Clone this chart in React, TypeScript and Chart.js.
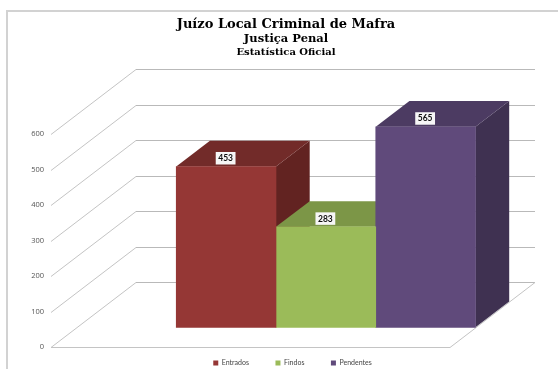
import React, { useEffect, useRef } from "react";
import { Chart, registerables } from "chart.js";

Chart.register(...registerables);

const titleText = "Juízo Local Criminal de Mafra";
const subtitleLine = "Justiça Penal";
const thirdLine = "Estatística Oficial";
const categories = ["Total"];
const seriesNames = ["Entrados", "Findos", "Pendentes"];
const seriesValues = [453, 283, 565];
const frontColors = ["#953735", "#9BBB59", "#604A7B"];
const topColors = ["#722B29", "#7C9647", "#4C3B62"];
const sideColors = ["#622321", "#677C3B", "#3F3151"];
const yTicks = { min: 0, max: 600, step: 100 };

const WALL_DX = 85;
const WALL_DY = -65;
const BAR_OFFSET_X = 25.5;
const BAR_OFFSET_Y = -19.7;
const BAR_DEPTH_X = 33.7;
const BAR_DEPTH_Y = -25.7;

const poly = (ctx: CanvasRenderingContext2D, pts: number[][], fill: string) => {
  ctx.beginPath();
  pts.forEach((p, i) => (i ? ctx.lineTo(p[0], p[1]) : ctx.moveTo(p[0], p[1])));
  ctx.closePath();
  ctx.fillStyle = fill;
  ctx.fill();
};

const barDatasets = (chart: any) =>
  chart.getSortedVisibleDatasetMetas().filter((m: any) => m.index > 0);

const depthPlugin = {
  id: "depth",
  beforeInit(chart: any) {
    const legend = chart.legend;
    const fit = legend.fit;
    legend.fit = function () {
      fit.call(legend);
      legend.height = 22;
    };
  },
  afterLayout(chart: any) {
    const legend = chart.legend;
    legend.left += 6.5;
    legend.right += 6.5;
    legend.top = 333;
    legend.bottom = 369;
  },
  beforeDraw(chart: any) {
    const ctx = chart.ctx;
    ctx.save();
    ctx.fillStyle = "#fff";
    ctx.fillRect(0, 0, chart.width, chart.height);
    ctx.strokeStyle = "#d2d2d2";
    ctx.lineWidth = 2;
    ctx.strokeRect(7, 11, 700, 500);
    const { left, right } = chart.chartArea;
    const y = chart.scales.y;
    ctx.lineWidth = 1;
    y.ticks.forEach((t: any) => {
      const py = Math.round(y.getPixelForValue(t.value)) + 0.5;
      ctx.strokeStyle = "#c4c4c4";
      ctx.beginPath();
      ctx.moveTo(left, py);
      ctx.lineTo(left + WALL_DX, py + WALL_DY);
      ctx.stroke();
      ctx.strokeStyle = "#b9b9b9";
      ctx.beginPath();
      ctx.moveTo(left + WALL_DX, py + WALL_DY);
      ctx.lineTo(right + WALL_DX, py + WALL_DY);
      ctx.stroke();
    });
    const y0 = Math.round(y.getPixelForValue(0)) + 0.5;
    ctx.strokeStyle = "#c4c4c4";
    ctx.beginPath();
    ctx.moveTo(left, y0);
    ctx.lineTo(right, y0);
    ctx.lineTo(right + WALL_DX, y0 + WALL_DY);
    ctx.stroke();
    ctx.restore();
  },
  beforeDatasetsDraw(chart: any) {
    const ctx = chart.ctx;
    ctx.save();
    ctx.translate(BAR_OFFSET_X, BAR_OFFSET_Y);
    barDatasets(chart).forEach((meta: any) => {
      const i = meta.index - 1;
      const b = meta.data[0].getProps(["x", "y", "base", "width"], true);
      const l = b.x - b.width / 2;
      const r = b.x + b.width / 2;
      poly(ctx, [[r, b.y], [r + BAR_DEPTH_X, b.y + BAR_DEPTH_Y], [r + BAR_DEPTH_X, b.base + BAR_DEPTH_Y], [r, b.base]], sideColors[i]);
      poly(ctx, [[l, b.y], [l + BAR_DEPTH_X, b.y + BAR_DEPTH_Y], [r + BAR_DEPTH_X, b.y + BAR_DEPTH_Y], [r, b.y]], topColors[i]);
    });
  },
  afterDatasetsDraw(chart: any) {
    const ctx = chart.ctx;
    barDatasets(chart).forEach((meta: any) => {
      const i = meta.index - 1;
      const b = meta.data[0].getProps(["x", "y"], true);
      const text = String(seriesValues[i]);
      const cy = b.y - 8.5;
      ctx.font = "bold 8.5px Lato";
      const w = ctx.measureText(text).width + 5;
      ctx.fillStyle = "#f6f6f6";
      ctx.fillRect(b.x - w / 2 - 0.5, cy - 6, w, 12.5);
      ctx.fillStyle = "#111";
      ctx.textAlign = "center";
      ctx.textBaseline = "middle";
      ctx.fillText(text, b.x - 0.5, cy + 0.5);
    });
    ctx.restore();
  },
  afterDraw(chart: any) {
    const ctx = chart.ctx;
    ctx.save();
    ctx.font = "bold 10px 'DejaVu Serif'";
    ctx.fillStyle = "#000";
    ctx.textAlign = "center";
    ctx.textBaseline = "middle";
    ctx.fillText(thirdLine, chart.width / 2, 52.5);
    ctx.restore();
  },
};

export default function App() {
  const ref = useRef<HTMLCanvasElement | null>(null);
  useEffect(() => {
    const chart = new Chart(ref.current!, {
      type: "bar",
      plugins: [depthPlugin],
      data: {
        labels: categories,
        datasets: [
          { label: "", data: [null], backgroundColor: "transparent" },
          ...seriesNames.map((name, i) => ({
            label: name,
            data: [seriesValues[i]],
            backgroundColor: frontColors[i],
          })),
        ] as any,
      },
      options: {
        responsive: false,
        animation: false,
        clip: false,
        barPercentage: 1,
        categoryPercentage: 1,
        layout: { padding: 0 },
        scales: {
          x: { display: false },
          y: {
            min: yTicks.min,
            max: yTicks.max,
            afterFit: (s: any) => { s.width = 51; },
            grid: { display: false, drawTicks: false, tickLength: 0 },
            border: { display: false },
            ticks: {
              stepSize: yTicks.step,
              color: "#555",
              padding: 7,
              font: { family: "'Open Sans'", size: 7.5 },
            },
          },
          right: {
            position: "right",
            afterFit: (s: any) => { s.width = 122; },
            grid: { display: false },
            border: { display: false },
            ticks: { display: false },
          },
        },
        plugins: {
          tooltip: { enabled: false },
          title: {
            display: true,
            text: titleText,
            color: "#000",
            font: { family: "'DejaVu Serif'", size: 13, weight: "bold" },
            padding: { top: 17, bottom: 0 },
          },
          subtitle: {
            display: true,
            text: subtitleLine,
            color: "#000",
            font: { family: "'DejaVu Serif'", size: 11.5, weight: "bold" },
            padding: { top: 0, bottom: 87.6 },
          },
          legend: {
            position: "bottom",
            labels: {
              boxWidth: 5,
              boxHeight: 5,
              padding: 26.5,
              color: "#444",
              font: { family: "Lato", size: 7 },
              filter: (item: any) => item.text !== "",
            },
          },
        },
      } as any,
    });
    return () => chart.destroy();
  }, []);
  return (
    <div style={{ position: "fixed", left: 0, top: 0, width: 558, height: 369, overflow: "hidden" }}>
      <canvas ref={ref} width={572} height={369} style={{ display: "block", width: 572, height: 369 }} />
    </div>
  );
}
